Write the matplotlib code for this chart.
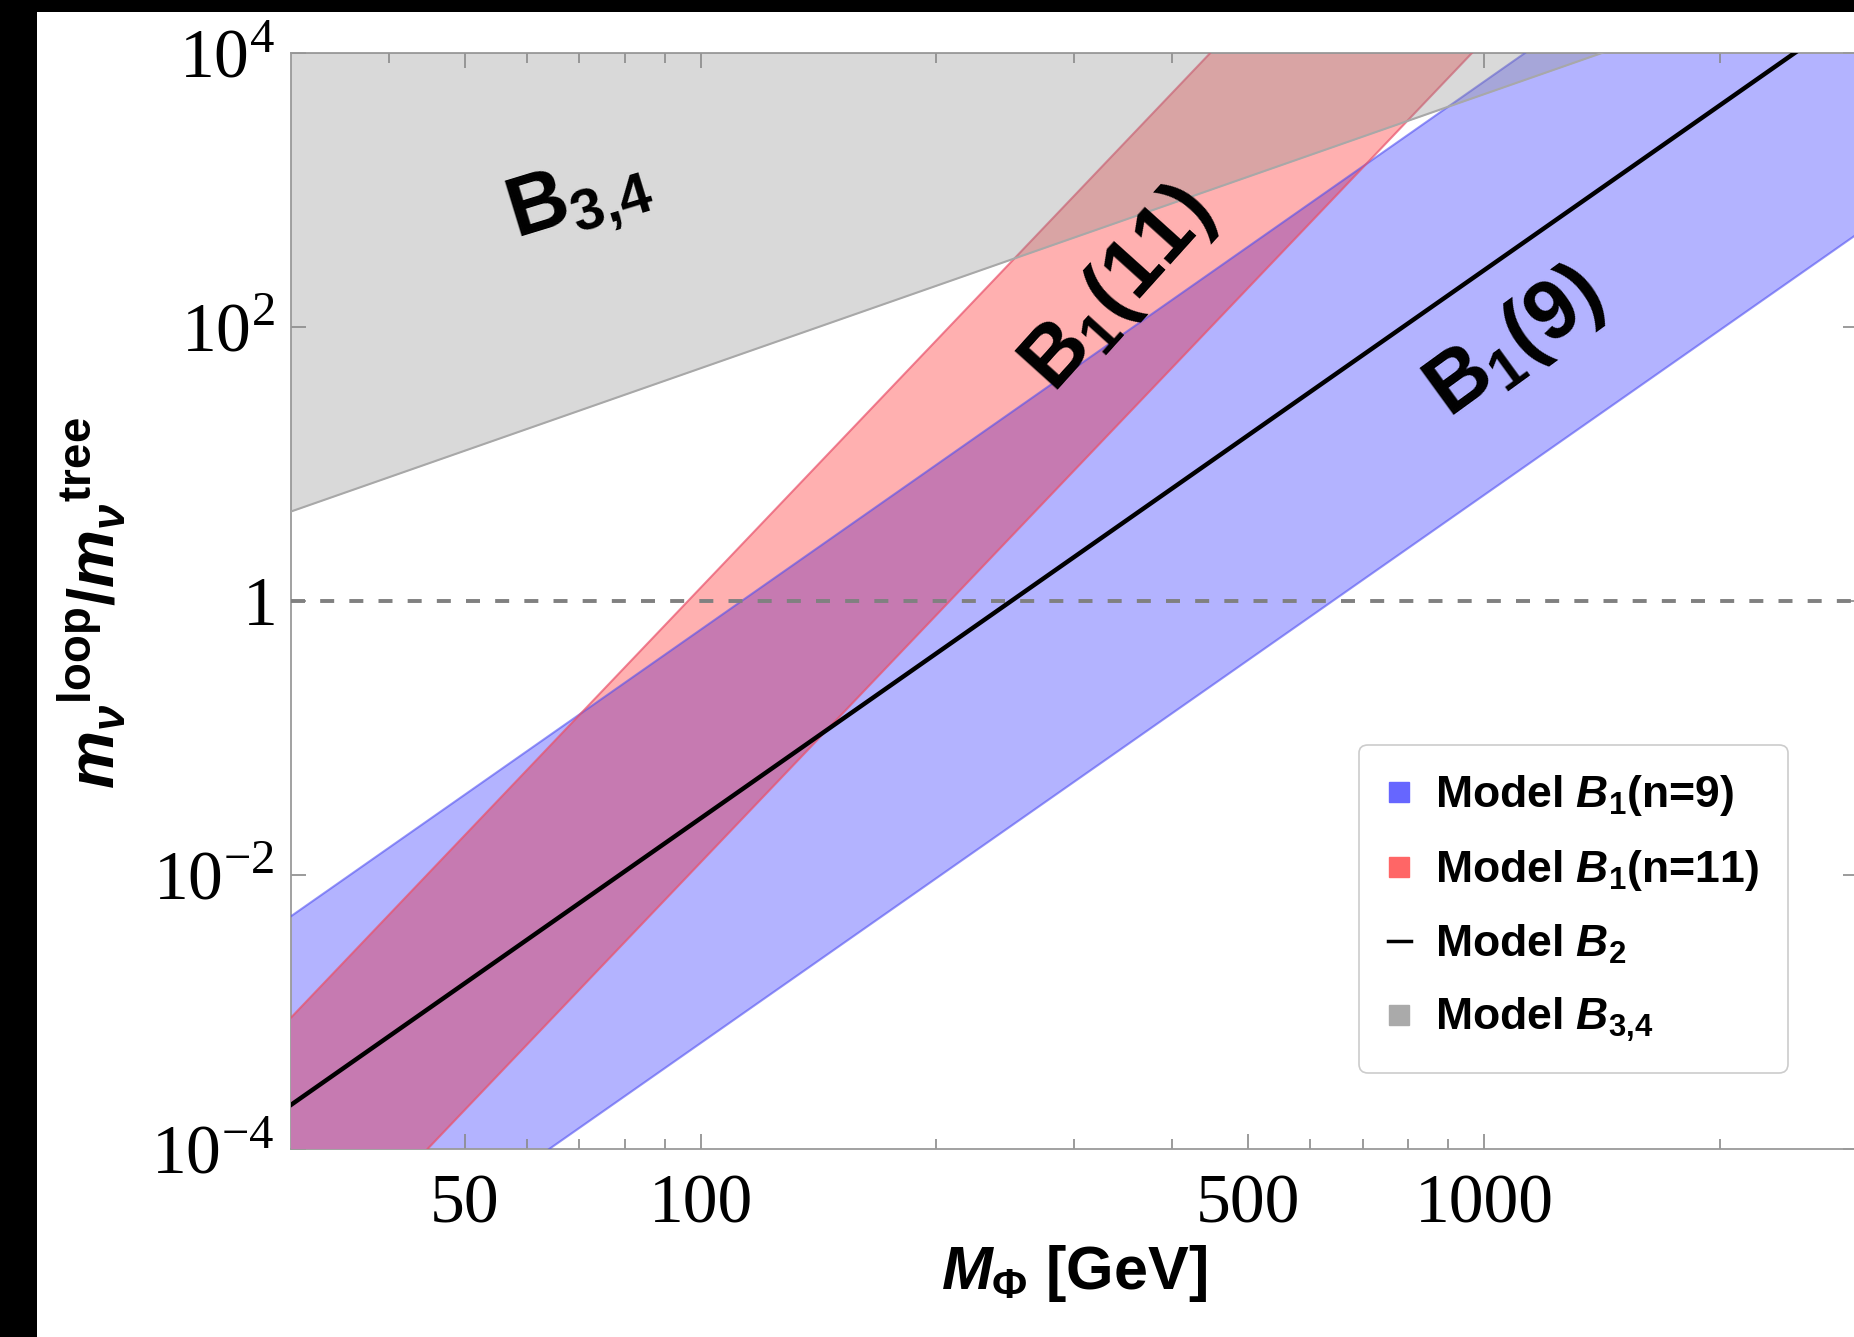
import numpy as np
import matplotlib
matplotlib.use("Agg")
import matplotlib.pyplot as plt
from matplotlib.patches import Rectangle
from matplotlib.lines import Line2D
from matplotlib.ticker import FixedLocator, FixedFormatter, NullLocator

plt.rcParams['font.family'] = ['Liberation Sans', 'DejaVu Sans']
plt.rcParams['font.weight'] = 'bold'
plt.rcParams['mathtext.fontset'] = 'custom'
plt.rcParams['mathtext.rm'] = 'Liberation Serif:normal'
plt.rcParams['mathtext.it'] = 'Liberation Sans:bold:italic'
plt.rcParams['mathtext.bf'] = 'Liberation Sans:bold'

# band edges at the two ends of the mass range
mass = [30, 3000]                 # M_Phi [GeV]
b1_n9_lo = [4.8e-6, 4.8e2]
b1_n9_hi = [5.0e-3, 5.0e5]
b1_n11_lo = [9.0e-6, 9.0e6]
b1_n11_hi = [9.1e-4, 9.1e8]
b2_line = [2.1e-4, 2.1e4]
b34_lo = [4.5, 4.5e4]
b34_hi = [1e6, 1e6]
unity = 1.0

x_ticks = [50, 100, 500, 1000]
x_labels = ['50', '100', '500', '1000']
x_minor = [40, 60, 70, 80, 90, 200, 300, 400, 600, 700, 800, 900, 2000, 3000]
y_ticks = [1e-4, 1e-2, 1, 1e2, 1e4]
y_labels = [r'$10^{-4}$', r'$10^{-2}$', r'$1$', r'$10^{2}$', r'$10^{4}$']

W, H = 1854, 1337
fig = plt.figure(figsize=(W / 100, H / 100), dpi=100, facecolor='white')
ax = fig.add_axes([291 / W, 1 - 1149 / H, (W - 291) / W + 0.002, 1096 / H])

blue_fill = ax.fill_between(mass, b1_n9_lo, b1_n9_hi, color='#B3B3FF', lw=0, zorder=1)
ax.fill_between(mass, b1_n11_lo, b1_n11_hi, color='#FFB0B0', lw=0, zorder=2)
overlap = ax.fill_between(mass, b1_n11_lo, b1_n11_hi, color='#C67AB1', lw=0, zorder=3)
overlap.set_clip_path(blue_fill.get_paths()[0], ax.transData)

for ys in (b1_n9_lo, b1_n9_hi):
    ax.plot(mass, ys, color='#5050F0', alpha=0.6, lw=1.5, zorder=4)
for ys in (b1_n11_lo, b1_n11_hi):
    ax.plot(mass, ys, color='#E8506A', alpha=0.7, lw=1.5, zorder=4)

ax.fill_between(mass, b34_lo, b34_hi, color='#8C8C8C', alpha=0.33, lw=0, zorder=5)
ax.plot(mass, b34_lo, color='#A8A8A8', lw=1.5, zorder=6)

ax.axhline(unity, color='#808080', lw=2.8, dashes=(3.6, 3.9), zorder=7)
ax.plot(mass, b2_line, color='black', lw=3.2, zorder=8)

ax.set_xscale('log')
ax.set_yscale('log')
ax.set_xlim(30, 3000)
ax.set_ylim(1e-4, 1e4)

ax.xaxis.set_major_locator(FixedLocator(x_ticks))
ax.xaxis.set_major_formatter(FixedFormatter(x_labels))
ax.xaxis.set_minor_locator(FixedLocator(x_minor))
ax.yaxis.set_major_locator(FixedLocator(y_ticks))
ax.yaxis.set_major_formatter(FixedFormatter(y_labels))
ax.yaxis.set_minor_locator(NullLocator())

ax.tick_params(which='both', direction='in', top=True, right=True, color='#8a8a8a', width=1.2)
ax.tick_params(which='major', length=11)
ax.tick_params(which='minor', length=7)
ax.tick_params(axis='x', which='major', pad=18, labelsize=50)
ax.tick_params(axis='y', which='major', pad=12, labelsize=50)
for lab in ax.get_xticklabels() + ax.get_yticklabels():
    lab.set_fontfamily('Liberation Serif')
    lab.set_fontweight('normal')
for sp in ax.spines.values():
    sp.set_color('#9a9a9a')
    sp.set_linewidth(1.3)

ax.text(0.184, 0.865, r'$\mathbf{B_{3{,}4}}$', transform=ax.transAxes, fontsize=60,
        rotation=17, rotation_mode='anchor', ha='center', va='center', zorder=10)
ax.text(0.528, 0.784, r'$\mathbf{B_{1}(11)}$', transform=ax.transAxes, fontsize=60,
        rotation=48, rotation_mode='anchor', ha='center', va='center', zorder=10)
ax.text(0.781, 0.735, r'$\mathbf{B_{1}(9)}$', transform=ax.transAxes, fontsize=60,
        rotation=36, rotation_mode='anchor', ha='center', va='center', zorder=10)

handles = [
    Line2D([], [], marker='s', ls='none', color='#6666FF', markersize=15),
    Line2D([], [], marker='s', ls='none', color='#FF6666', markersize=15),
    Line2D([], [], color='black', lw=2.5),
    Line2D([], [], marker='s', ls='none', color='#AAAAAA', markersize=15),
]
labels = [r'Model $\mathit{B}_{\mathbf{1}}$(n=9)', r'Model $\mathit{B}_{\mathbf{1}}$(n=11)',
          r'Model $\mathit{B}_{\mathbf{2}}$', r'Model $\mathit{B}_{\mathbf{3{,}4}}$']
leg = ax.legend(handles, labels, loc='upper left', bbox_to_anchor=(0.682, 0.369),
                fontsize=32, handlelength=0.5, handletextpad=0.55, labelspacing=0.67,
                borderpad=0.65, borderaxespad=0, frameon=True, fancybox=True,
                framealpha=1, edgecolor='#cccccc')
leg.get_frame().set_linewidth(1.2)
leg.set_zorder(20)

fig.text(1074 / W, 1 - 1273 / H, r'$M_{\mathbf{\Phi}}$ [GeV]', fontsize=44,
         ha='center', va='center')
fig.text(92 / W, 1 - 603 / H,
         r'${m_{\nu}}^{\mathbf{loop}}\mathbf{/}{m_{\nu}}^{\mathbf{tree}}$',
         fontsize=47, rotation=90, ha='center', va='center')

fig.patches.append(Rectangle((0, 0), 37 / W, 1, transform=fig.transFigure,
                             facecolor='black', edgecolor='none'))
fig.patches.append(Rectangle((0, 1 - 12 / H), 1, 12 / H, transform=fig.transFigure,
                             facecolor='black', edgecolor='none'))

fig.savefig('out.png', dpi=100, facecolor='white')
